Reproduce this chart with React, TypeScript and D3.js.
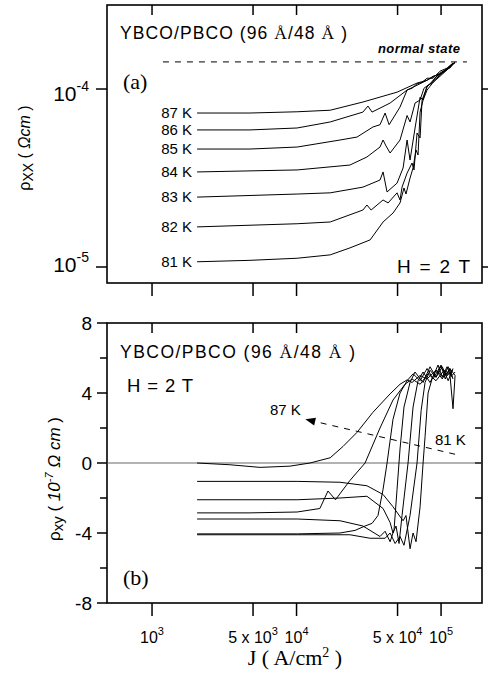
import * as d3 from 'd3';
import { useEffect, useRef } from 'react';

// panel (a): rho_xx (ohm cm) against J (A/cm^2)
const temps = ['87 K', '86 K', '85 K', '84 K', '83 K', '82 K', '81 K'];

const rhoXX87 = [[2.05e3, 7.33e-5], [4.76e3, 7.33e-5], [1.01e4, 7.45e-5], [1.71e4, 7.6e-5], [2.88e4, 8.45e-5], [4.96e4, 9.6e-5], [6.82e4, 1.08e-4], [8.0e4, 1.12e-4], [9.84e4, 1.23e-4], [1.1e5, 1.3e-4], [1.21e5, 1.4e-4]];
const rhoXX86 = [[2.05e3, 5.89e-5], [4.76e3, 5.89e-5], [1.01e4, 6.04e-5], [1.71e4, 6.53e-5], [2.88e4, 7.42e-5], [3.12e4, 8.02e-5], [3.33e4, 7.42e-5], [4.44e4, 8.34e-5], [5.82e4, 9.87e-5], [6.82e4, 1.05e-4], [8.0e4, 1.12e-4], [8.8e4, 1.18e-4], [9.84e4, 1.21e-4], [1.07e5, 1.28e-4], [1.15e5, 1.31e-4], [1.25e5, 1.42e-4]];
const rhoXX85 = [[2.05e3, 4.6e-5], [4.76e3, 4.6e-5], [1.01e4, 4.72e-5], [2.0e4, 5.17e-5], [2.62e4, 5.37e-5], [3.38e4, 6.12e-5], [3.78e4, 6.3e-5], [4.1e4, 7.33e-5], [4.37e4, 6.3e-5], [5.2e4, 7.92e-5], [5.82e4, 9.87e-5], [6.3e4, 1.01e-4], [6.82e4, 1.07e-4], [7.39e4, 1.09e-4], [8.0e4, 1.15e-4], [8.8e4, 1.15e-4], [9.84e4, 1.26e-4], [1.1e5, 1.31e-4], [1.21e5, 1.4e-4]];
const rhoXX84 = [[2.05e3, 3.42e-5], [1.01e4, 3.51e-5], [2.34e4, 3.74e-5], [3.07e4, 4.15e-5], [3.78e4, 4.72e-5], [3.97e4, 5.17e-5], [4.16e4, 4.79e-5], [4.44e4, 4.37e-5], [5.2e4, 5.17e-5], [5.82e4, 7.1e-5], [6.1e4, 6.53e-5], [6.61e4, 8.34e-5], [7.16e4, 8.67e-5], [7.62e4, 1.01e-4], [8.39e4, 1.07e-4], [9.23e4, 1.17e-4], [9.84e4, 1.21e-4], [1.08e5, 1.28e-4], [1.19e5, 1.38e-4]];
const rhoXX83 = [[2.05e3, 2.47e-5], [1.01e4, 2.57e-5], [1.71e4, 2.61e-5], [2.88e4, 2.81e-5], [3.78e4, 3.08e-5], [3.97e4, 3.42e-5], [4.23e4, 2.64e-5], [4.96e4, 2.96e-5], [5.46e4, 3.6e-5], [5.82e4, 5.17e-5], [6.1e4, 3.99e-5], [6.61e4, 6.04e-5], [7.16e4, 9.0e-5], [7.51e4, 8.67e-5], [8.0e4, 1.04e-4], [8.8e4, 1.09e-4], [9.84e4, 1.18e-4], [1.1e5, 1.28e-4], [1.21e5, 1.38e-4]];
const rhoXX82 = [[2.05e3, 1.68e-5], [1.01e4, 1.75e-5], [1.71e4, 1.79e-5], [2.88e4, 2.09e-5], [3.07e4, 2.23e-5], [3.28e4, 2.09e-5], [3.97e4, 2.38e-5], [4.3e4, 2.29e-5], [4.96e4, 2.61e-5], [5.2e4, 2.38e-5], [5.37e4, 2.81e-5], [5.82e4, 3.37e-5], [6.3e4, 3.84e-5], [6.5e4, 3.51e-5], [6.82e4, 5.66e-5], [7.16e4, 5.31e-5], [7.39e4, 8.67e-5], [8.0e4, 1.03e-4], [8.66e4, 1.09e-4], [9.53e4, 1.2e-4], [1.05e5, 1.25e-4], [1.15e5, 1.35e-4], [1.25e5, 1.4e-4]];
const rhoXX81 = [[2.05e3, 1.07e-5], [4.76e3, 1.09e-5], [1.01e4, 1.12e-5], [1.71e4, 1.17e-5], [2.34e4, 1.28e-5], [3.23e4, 1.42e-5], [3.97e4, 1.79e-5], [4.65e4, 2.01e-5], [5.2e4, 2.29e-5], [5.54e4, 2.78e-5], [5.72e4, 2.57e-5], [6.1e4, 3.16e-5], [6.4e4, 3.6e-5], [6.71e4, 4.54e-5], [6.93e4, 4.26e-5], [7.16e4, 7.42e-5], [7.51e4, 8.67e-5], [8.0e4, 9.87e-5], [8.66e4, 1.07e-4], [9.53e4, 1.17e-4], [1.05e5, 1.25e-4], [1.15e5, 1.33e-4], [1.25e5, 1.42e-4]];

// panel (b): rho_xy (1e-7 ohm cm) against J (A/cm^2)
const rhoXY87 = [[2.05e3, 0], [3.46e3, -0.1], [5.6e3, -0.25], [9.0e3, -0.18], [1.24e4, 0], [1.71e4, 0.3], [2.1e4, 0.95], [2.62e4, 1.75], [3.38e4, 2.9], [4.44e4, 3.95], [5.2e4, 4.5], [5.82e4, 4.75], [6.3e4, 4.6], [7.16e4, 5.0], [8.0e4, 4.8], [9.23e4, 5.3], [1.05e5, 4.9], [1.15e5, 5.4], [1.21e5, 4.8]];
const rhoXY86 = [[2.05e3, -2.85], [4.76e3, -2.85], [1.01e4, -2.8], [1.45e4, -2.6], [1.65e4, -1.6], [1.86e4, -2.1], [2.34e4, -1.0], [2.98e4, 0], [3.78e4, 2.0], [4.65e4, 3.6], [5.63e4, 4.5], [6.3e4, 4.8], [7.16e4, 4.5], [8.13e4, 5.1], [9.23e4, 4.7], [1.05e5, 5.3], [1.19e5, 5.0], [1.25e5, 5.2]];
const rhoXY85 = [[2.05e3, -4.05], [1.01e4, -4.05], [2.0e4, -4.0], [2.54e4, -3.85], [2.98e4, -3.6], [3.33e4, -3.45], [3.66e4, -3.0], [3.97e4, -1.5], [4.23e4, 0], [4.65e4, 2.5], [5.2e4, 4.0], [5.82e4, 4.7], [6.4e4, 5.1], [7.16e4, 4.7], [8.0e4, 5.4], [8.8e4, 4.8], [9.84e4, 5.5], [1.1e5, 5.0], [1.21e5, 5.3]];
const rhoXY84 = [[2.05e3, -3.2], [1.01e4, -3.2], [2.0e4, -3.3], [2.88e4, -3.6], [3.78e4, -4.2], [4.1e4, -3.9], [4.44e4, -4.5], [4.73e4, -3.8], [4.96e4, -1.5], [5.2e4, 0.8], [5.54e4, 3.2], [6.1e4, 4.6], [6.6e4, 5.2], [7.51e4, 4.6], [8.39e4, 5.5], [9.23e4, 4.9], [1.02e5, 5.5], [1.12e5, 4.7], [1.21e5, 5.4]];
const rhoXY83 = [[2.05e3, -2.1], [1.01e4, -2.1], [2.0e4, -2.0], [3.07e4, -1.9], [3.97e4, -2.6], [4.44e4, -3.4], [4.65e4, -4.0], [4.88e4, -3.6], [5.12e4, -4.6], [5.37e4, -3.0], [5.91e4, 0], [6.4e4, 3.2], [6.93e4, 4.7], [7.51e4, 5.2], [8.39e4, 4.6], [9.23e4, 5.3], [1.02e5, 4.8], [1.12e5, 5.5], [1.19e5, 4.9]];
const rhoXY82 = [[2.05e3, -4.1], [1.01e4, -4.1], [2.34e4, -4.1], [3.23e4, -4.3], [4.1e4, -4.3], [4.44e4, -4.0], [4.81e4, -4.6], [5.2e4, -4.2], [5.54e4, -4.7], [6.1e4, -3.0], [6.82e4, 0], [7.28e4, 3.0], [7.75e4, 4.6], [8.39e4, 5.3], [9.23e4, 4.9], [1.0e5, 5.6], [1.07e5, 4.8], [1.15e5, 5.4], [1.25e5, 5.0]];
const rhoXY81 = [[2.05e3, -1.05], [1.01e4, -1.05], [2.0e4, -1.1], [3.07e4, -1.3], [3.97e4, -1.8], [4.65e4, -2.5], [5.46e4, -3.3], [5.72e4, -3.0], [6.1e4, -4.9], [6.4e4, -4.0], [6.71e4, -4.5], [7.16e4, -2.5], [7.51e4, 0], [7.75e4, 1.5], [8.13e4, 4.0], [8.66e4, 4.8], [9.53e4, 5.6], [1.02e5, 4.9], [1.1e5, 5.5], [1.15e5, 5.1], [1.21e5, 3.1], [1.25e5, 5.0]];

const rhoXXCurves = [rhoXX87, rhoXX86, rhoXX85, rhoXX84, rhoXX83, rhoXX82, rhoXX81];
const rhoXYCurves = [rhoXY87, rhoXY86, rhoXY85, rhoXY84, rhoXY83, rhoXY82, rhoXY81];

const xTicks = [1e3, 5e3, 1e4, 5e4, 1e5];
const xTickLabels = [['10', '3'], ['5 x 10', '3'], ['10', '4'], ['5 x 10', '4'], ['10', '5']];
const yTicksA = [1e-4, 1e-5];
const yTickLabelsA = [['10', '-4'], ['10', '-5']];
const yTicksB = [8, 4, 0, -4, -8];
const yMinorB = [6, 2, -2, -6];
const normalState = 1.42e-4;
const normalRange = [1.19e3, 1.51e5];
const arrowFrom = [1.25e5, 0.5];
const arrowTo = [1.15e4, 2.5];

const SANS = '"Liberation Sans", Arial, sans-serif';
const SERIF = '"Liberation Serif", "Times New Roman", serif';

const App = () => {
  const ref = useRef(null);

  useEffect(() => {
    const svg = d3.select(ref.current);
    svg.selectAll('*').remove();

    const L = 107, R = 482;
    const topA = 5, botA = 283, topB = 323, botB = 603;

    const x = d3.scaleLog().domain([488, 1.92e5]).range([L, R]);
    const yA = d3.scaleLog().domain([8.13e-6, 2.965e-4]).range([botA, topA]);
    const yB = d3.scaleLinear().domain([-8, 8]).range([botB, topB]);

    svg.append('rect').attr('width', 488).attr('height', 675).attr('fill', '#fff');

    const g = svg.append('g').attr('stroke', '#000').attr('fill', 'none');

    // frames
    g.append('rect').attr('x', L).attr('y', topA).attr('width', R - L).attr('height', botA - topA).attr('stroke-width', 1.6);
    g.append('rect').attr('x', L).attr('y', topB).attr('width', R - L).attr('height', botB - topB).attr('stroke-width', 1.6);

    const tick = (x1, y1, x2, y2, w = 1.5) =>
      g.append('line').attr('x1', x1).attr('y1', y1).attr('x2', x2).attr('y2', y2).attr('stroke-width', w);

    xTicks.forEach(t => {
      const px = x(t);
      tick(px, topA, px, topA + 10);
      tick(px, botA, px, botA + 13);
      tick(px, topB, px, topB + 10);
      tick(px, botB, px, botB + 13);
    });
    yTicksA.forEach(t => {
      tick(L - 11, yA(t), L, yA(t));
      tick(R, yA(t), R + 8, yA(t));
    });
    yTicksB.forEach(t => {
      tick(L - 10, yB(t), L, yB(t));
      if (t !== 8 && t !== -8) tick(R - 7, yB(t), R, yB(t));
    });
    yMinorB.forEach(t => {
      tick(L - 7, yB(t), L, yB(t));
      tick(R - 7, yB(t), R, yB(t));
    });

    // zero line
    g.append('line').attr('x1', L).attr('x2', R).attr('y1', yB(0)).attr('y2', yB(0))
      .attr('stroke', '#555').attr('stroke-width', 0.9);

    // normal state
    g.append('line')
      .attr('x1', x(normalRange[0])).attr('x2', x(normalRange[1]))
      .attr('y1', yA(normalState)).attr('y2', yA(normalState))
      .attr('stroke-width', 1).attr('stroke-dasharray', '6,6');

    const lineA = d3.line().x(d => x(d[0])).y(d => yA(d[1]));
    const lineB = d3.line().x(d => x(d[0])).y(d => yB(d[1]));

    rhoXXCurves.forEach(c => {
      g.append('path').attr('d', lineA(c)).attr('stroke-width', 1).attr('stroke-linejoin', 'round');
    });
    rhoXYCurves.forEach(c => {
      g.append('path').attr('d', lineB(c)).attr('stroke-width', 1).attr('stroke-linejoin', 'round');
    });

    // dashed arrow in (b)
    const ax1 = x(arrowFrom[0]), ay1 = yB(arrowFrom[1]);
    const ax2 = x(arrowTo[0]), ay2 = yB(arrowTo[1]);
    const ang = Math.atan2(ay2 - ay1, ax2 - ax1);
    g.append('line').attr('x1', ax1).attr('y1', ay1)
      .attr('x2', ax2 - 8 * Math.cos(ang)).attr('y2', ay2 - 8 * Math.sin(ang))
      .attr('stroke-width', 1).attr('stroke-dasharray', '6,6');
    const head = [
      [ax2, ay2],
      [ax2 - 10 * Math.cos(ang) + 4 * Math.sin(ang), ay2 - 10 * Math.sin(ang) - 4 * Math.cos(ang)],
      [ax2 - 10 * Math.cos(ang) - 4 * Math.sin(ang), ay2 - 10 * Math.sin(ang) + 4 * Math.cos(ang)],
    ];
    svg.append('polygon').attr('points', head.map(p => p.join(',')).join(' ')).attr('fill', '#000');

    // text
    const txt = svg.append('g').attr('fill', '#000').attr('font-family', SANS);

    xTicks.forEach((t, i) => {
      const el = txt.append('text').attr('x', x(t)).attr('y', 643)
        .attr('text-anchor', 'middle').attr('font-size', 16);
      el.append('tspan').text(xTickLabels[i][0]);
      el.append('tspan').attr('dy', -8).attr('font-size', 11).text(xTickLabels[i][1]);
    });

    const aDy = [12, 5];
    yTicksA.forEach((t, i) => {
      const el = txt.append('text').attr('x', 89).attr('y', yA(t) + aDy[i])
        .attr('text-anchor', 'end').attr('font-size', 21);
      el.append('tspan').text(yTickLabelsA[i][0]);
      el.append('tspan').attr('dy', -10).attr('font-size', 14).text(yTickLabelsA[i][1]);
    });

    yTicksB.forEach(t => {
      txt.append('text').attr('x', 92).attr('y', yB(t)).attr('dy', '0.36em')
        .attr('text-anchor', 'end').attr('font-size', 19).text(String(t));
    });

    // temperature labels on (a)
    temps.forEach((t, i) => {
      txt.append('text').attr('x', 192).attr('y', yA(rhoXXCurves[i][0][1]) + 5)
        .attr('text-anchor', 'end').attr('font-size', 15).text(t);
    });

    const title = (y, w) => {
      const el = txt.append('text').attr('x', 120).attr('y', y).attr('font-size', 17.5)
        .attr('textLength', w).attr('lengthAdjust', 'spacing');
      el.append('tspan').text('YBCO/PBCO (96 ');
      el.append('tspan').attr('font-family', SERIF).text('Å');
      el.append('tspan').text('/48 ');
      el.append('tspan').attr('font-family', SERIF).text('Å');
      el.append('tspan').text(' )');
    };
    title(39, 227);
    title(358, 235);

    txt.append('text').attr('x', 397).attr('y', 273).attr('font-size', 19)
      .attr('textLength', 73).attr('lengthAdjust', 'spacing').text('H = 2 T');
    txt.append('text').attr('x', 127).attr('y', 392).attr('font-size', 18.5)
      .attr('textLength', 66).attr('lengthAdjust', 'spacing').text('H = 2 T');

    txt.append('text').attr('x', 378).attr('y', 53).attr('font-size', 13)
      .attr('font-weight', 'bold').attr('font-style', 'italic')
      .attr('textLength', 82).attr('lengthAdjust', 'spacing').text('normal state');

    txt.append('text').attr('x', 270).attr('y', 415).attr('font-size', 15).text('87 K');
    txt.append('text').attr('x', 435).attr('y', 445).attr('font-size', 15).text('81 K');

    txt.append('text').attr('x', 123).attr('y', 89).attr('font-family', SERIF).attr('font-size', 22).text('(a)');
    txt.append('text').attr('x', 123).attr('y', 585).attr('font-family', SERIF).attr('font-size', 22).text('(b)');

    const jl = txt.append('text').attr('x', 295).attr('y', 665).attr('text-anchor', 'middle')
      .attr('font-family', SERIF).attr('font-size', 22);
    jl.append('tspan').text('J ( A/cm');
    jl.append('tspan').attr('dy', -8).attr('font-size', 14).text('2');
    jl.append('tspan').attr('dy', 8).text(' )');

    const ylA = txt.append('text').attr('transform', 'translate(30,148) rotate(-90)')
      .attr('text-anchor', 'middle').attr('font-size', 16);
    ylA.append('tspan').text('ρ');
    ylA.append('tspan').attr('dy', 3).attr('font-size', 14).text('XX');
    ylA.append('tspan').attr('dy', -3).text(' ( ');
    ylA.append('tspan').attr('font-style', 'italic').text('Ωcm');
    ylA.append('tspan').text(' )');

    const ylB = txt.append('text').attr('transform', 'translate(60,479) rotate(-90)')
      .attr('text-anchor', 'middle').attr('font-size', 17);
    ylB.append('tspan').text('ρ');
    ylB.append('tspan').attr('dy', 3).attr('font-size', 15).text('xy');
    ylB.append('tspan').attr('dy', -3).text(' ( ');
    ylB.append('tspan').attr('font-style', 'italic').text('10');
    ylB.append('tspan').attr('dy', -7).attr('font-size', 11).attr('font-style', 'italic').text('-7');
    ylB.append('tspan').attr('dy', 7).attr('font-style', 'italic').text(' Ω cm');
    ylB.append('tspan').text(' )');
  }, []);

  return (
    <svg ref={ref} width={488} height={675}
      style={{ position: 'absolute', left: 0, top: 0, display: 'block' }} />
  );
};

export default App;
